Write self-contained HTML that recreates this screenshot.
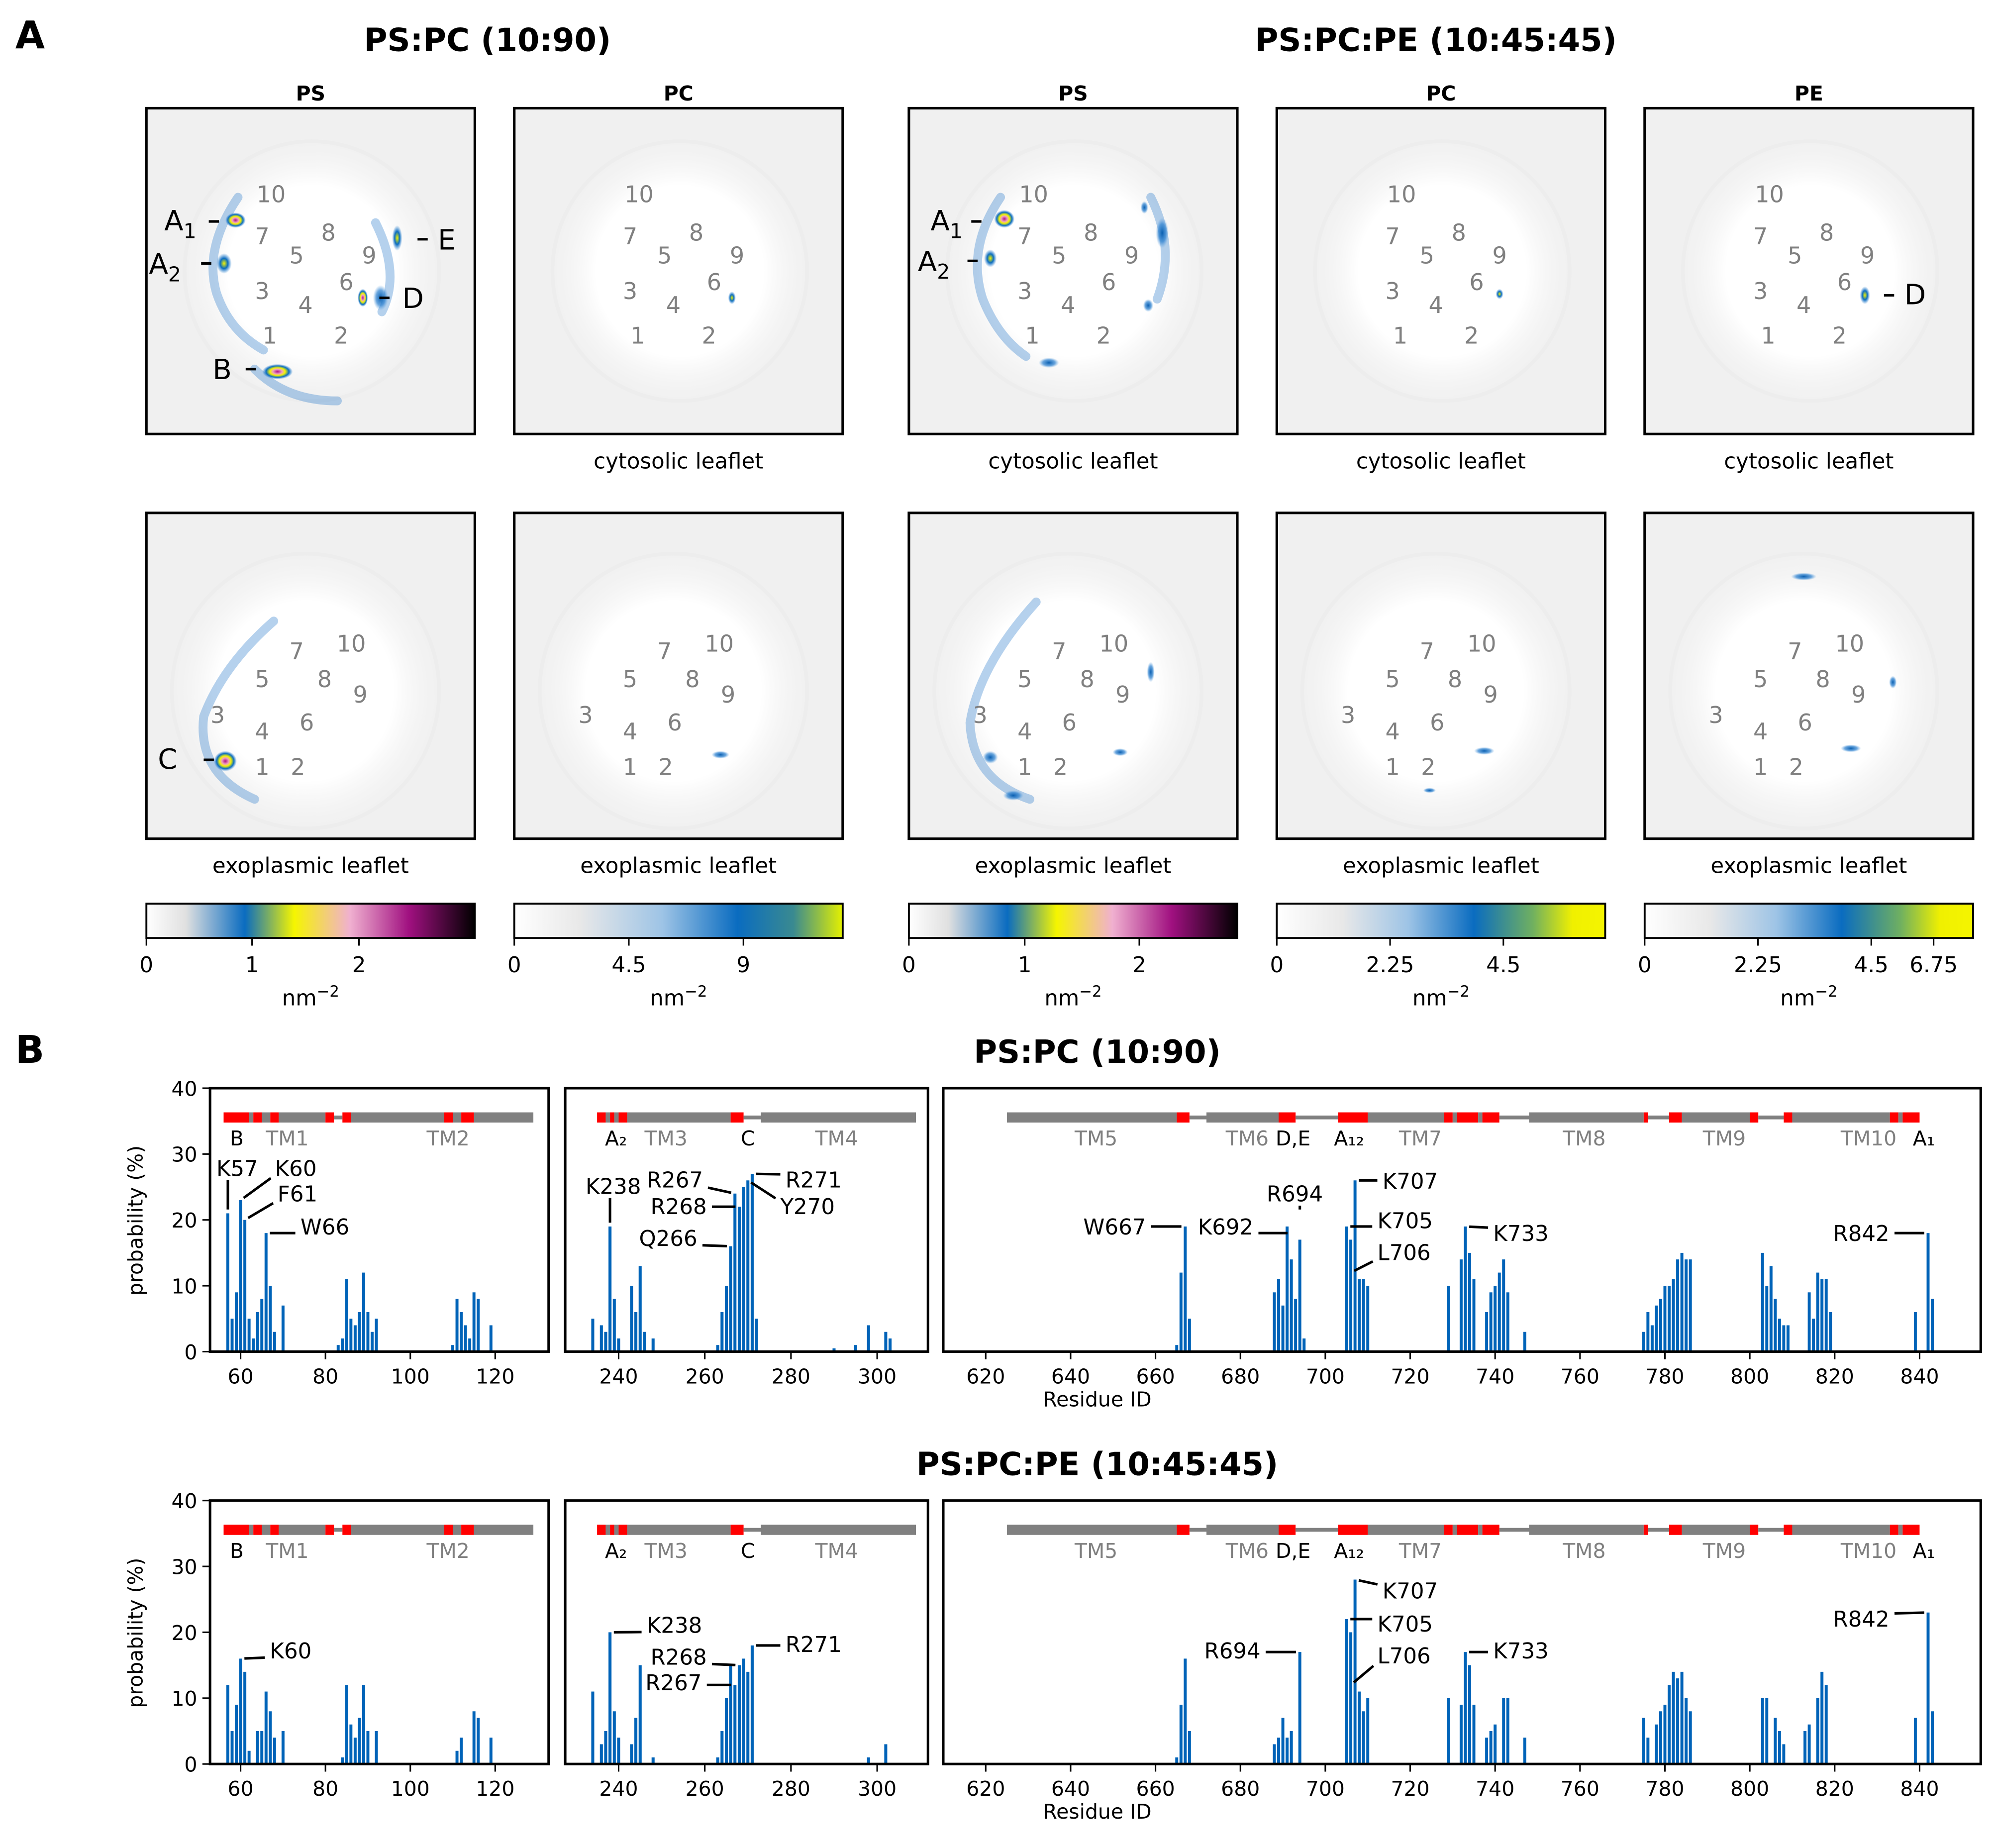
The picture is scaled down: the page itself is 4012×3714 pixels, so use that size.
<!DOCTYPE html>
<html><head><meta charset="utf-8"><style>
html,body{margin:0;padding:0;background:#fff}
svg{display:block;font-family:"DejaVu Sans","Liberation Sans",sans-serif}
</style></head><body>
<svg id="fig" xmlns="http://www.w3.org/2000/svg" width="4012" height="3714" viewBox="0 0 1568 1452" preserveAspectRatio="none">
<defs>
<radialGradient id="blob" cx="50%" cy="50%" r="50%">
<stop offset="0" stop-color="#fff"/><stop offset="0.6" stop-color="#fff"/><stop offset="1" stop-color="#f0f0f0" stop-opacity="0"/></radialGradient>
<radialGradient id="hot" cx="50%" cy="50%" r="50%">
<stop offset="0" stop-color="#b0108a"/><stop offset="0.3" stop-color="#f0a0c0"/><stop offset="0.5" stop-color="#f5f500"/><stop offset="0.75" stop-color="#0a6cc0"/><stop offset="1" stop-color="#2a80d0" stop-opacity="0"/></radialGradient>
<radialGradient id="warm" cx="50%" cy="50%" r="50%">
<stop offset="0" stop-color="#f5f500"/><stop offset="0.5" stop-color="#0a6cc0"/><stop offset="1" stop-color="#2a80d0" stop-opacity="0"/></radialGradient>
<radialGradient id="cool" cx="50%" cy="50%" r="50%">
<stop offset="0" stop-color="#0a5fb0"/><stop offset="0.6" stop-color="#2a80d0" stop-opacity="0.7"/><stop offset="1" stop-color="#5aa0e0" stop-opacity="0"/></radialGradient>
<linearGradient id="cbPS" x1="0" x2="1"><stop offset="0" stop-color="#fff"/><stop offset="0.12" stop-color="#e0e0e0"/><stop offset="0.3" stop-color="#0a6cc0"/><stop offset="0.45" stop-color="#f5f500"/><stop offset="0.62" stop-color="#f0b0d0"/><stop offset="0.8" stop-color="#a01080"/><stop offset="1" stop-color="#000"/></linearGradient>
<linearGradient id="cbPC" x1="0" x2="1"><stop offset="0" stop-color="#fff"/><stop offset="0.2" stop-color="#e8e8e8"/><stop offset="0.45" stop-color="#9ec4e6"/><stop offset="0.68" stop-color="#0a6cc0"/><stop offset="0.85" stop-color="#3a8a90"/><stop offset="1" stop-color="#e4f000"/></linearGradient>
<linearGradient id="cbPE" x1="0" x2="1"><stop offset="0" stop-color="#fff"/><stop offset="0.2" stop-color="#e8e8e8"/><stop offset="0.4" stop-color="#9ec4e6"/><stop offset="0.6" stop-color="#0a6cc0"/><stop offset="0.78" stop-color="#70b060"/><stop offset="0.9" stop-color="#f0f000"/><stop offset="1" stop-color="#f5f500"/></linearGradient>
</defs>
<g id="A"></g>
<g id="B"></g>
</svg>
<script>
// ---------- Panel B data ----------
const resP1Top=[57,58,59,60,61,62,63,64,65,66,67,68,70,83,84,85,86,87,88,89,90,91,92,110,111,112,113,114,115,116,119];
const valP1Top=[21,5,9,23,20,5,2,6,8,18,10,3,7,1,2,11,5,4,6,12,6,3,5,1,8,6,4,2,9,8,4];
const resP2Top=[234,236,237,238,239,240,243,244,245,246,248,263,264,265,266,267,268,269,270,271,272,290,295,298,302,303];
const valP2Top=[5,4,3,19,8,2,10,6,13,3,2,1,6,10,16,24,22,25,26,27,5,0.5,1,4,3,2];
const resP3Top=[665,666,667,668,688,689,690,691,692,693,694,695,705,706,707,708,709,710,729,732,733,734,735,738,739,740,741,742,743,747,775,776,777,778,779,780,781,782,783,784,785,786,803,804,805,806,807,808,809,814,815,816,817,818,819,839,842,843];
const valP3Top=[1,12,19,5,9,11,7,19,14,8,17,2,19,17,26,11,11,10,10,14,19,15,11,6,9,10,12,14,9,3,3,6,4,7,8,10,10,11,14,15,14,14,15,10,13,8,5,4,4,9,5,12,11,11,6,6,18,8];
const resP1Bot=[57,58,59,60,61,62,64,65,66,67,68,70,84,85,86,87,88,89,90,92,111,112,115,116,119];
const valP1Bot=[12,5,9,16,14,2,5,5,11,8,4,5,1,12,6,4,7,12,5,5,2,4,8,7,4];
const resP2Bot=[234,236,237,238,239,240,243,244,245,248,263,264,265,266,267,268,269,270,271,298,302];
const valP2Bot=[11,3,5,20,8,4,3,7,15,1,1,5,10,15,12,15,16,14,18,1,3];
const resP3Bot=[665,666,667,668,688,689,690,691,692,694,705,706,707,708,709,710,729,732,733,734,735,738,739,740,742,743,747,775,776,778,779,780,781,782,783,784,785,786,803,804,806,807,808,813,814,816,817,818,839,842,843];
const valP3Bot=[1,9,16,5,3,4,7,4,5,17,22,20,28,11,8,10,10,9,17,15,9,4,5,6,10,10,4,7,4,6,8,9,12,14,13,14,10,8,10,10,7,5,3,5,6,10,14,12,7,23,8];
const yTicks=[0,10,20,30,40];
const xTicksP1=[60,80,100,120];
const xTicksP2=[240,260,280,300];
const xTicksP3=[620,640,660,680,700,720,740,760,780,800,820,840];

const NS="http://www.w3.org/2000/svg";
function mk(parent,tag,attrs,txt){const e=document.createElementNS(NS,tag);for(const k in attrs)e.setAttribute(k,attrs[k]);if(txt!==undefined)e.textContent=txt;parent.appendChild(e);return e;}

const A=document.getElementById('A'), B=document.getElementById('B');
let t;
t=mk(A,'text',{x:12,y:38,'font-size':30,'font-weight':'bold'},'A');

t=mk(A,'text',{x:383,y:40,'font-size':25,'font-weight':'bold','text-anchor':'middle'},'PS:PC (10:90)');

t=mk(A,'text',{x:1128,y:40,'font-size':25,'font-weight':'bold','text-anchor':'middle'},'PS:PC:PE (10:45:45)');


const colX=[115,404,714,1003,1292];
const colLbl=['PS','PC','PS','PC','PE'];
const row1num=[['10',98,74],['7',91,107],['5',118,122],['8',143,104],['9',175,122],['3',91,150],['4',125,161],['6',157,143],['1',97,185],['2',153,185]];
const row2num=[['7',118,115],['10',161,109],['5',91,137],['8',140,137],['9',168,149],['3',56,165],['4',91,178],['6',126,171],['1',91,206],['2',119,206]];
const spots=[
[0,0,70,88,8,6,'hot'],[0,0,61,122,6,8,'warm'],[0,0,197,102,4,10,'warm'],[0,0,170,149,4,7,'hot'],[0,0,184,149,6,10,'cool'],[0,0,103,207,12,6,'hot'],
[1,0,171,149,3,5,'warm'],
[2,0,75,87,8,7,'hot'],[2,0,64,118,5,7,'warm'],[2,0,199,98,5,12,'cool'],[2,0,185,78,3,5,'cool'],[2,0,188,155,4,5,'cool'],[2,0,110,200,8,4,'cool'],
[3,0,175,146,3,4,'warm'],
[4,0,173,147,4,7,'warm'],
[0,1,62,195,9,8,'hot'],
[1,1,162,190,7,3,'cool'],
[2,1,64,192,6,5,'cool'],[2,1,190,125,3,8,'cool'],[2,1,82,222,8,4,'cool'],[2,1,166,188,6,3,'cool'],
[3,1,163,187,8,3,'cool'],[3,1,120,218,5,2,'cool'],
[4,1,162,185,8,3,'cool'],[4,1,195,133,3,5,'cool'],[4,1,125,50,10,3,'cool']
];
const arcsPS=[[0,0,'M 72 70 Q 45 110 55 145 Q 65 175 92 190'],[0,0,'M 85 205 Q 110 230 150 230'],[0,0,'M 180 90 Q 200 130 185 160'],
[2,0,'M 72 70 Q 45 110 58 150 Q 70 180 92 195'],[2,0,'M 190 70 Q 210 110 195 150'],
[0,1,'M 100 85 Q 60 120 45 160 Q 40 205 85 225'],[2,1,'M 100 70 Q 55 120 48 165 Q 50 210 95 225']];
const rowY=[85,403];
for(let c=0;c<5;c++){
  for(let r=0;r<2;r++){
    const g=mk(A,'g',{transform:`translate(${colX[c]},${rowY[r]})`});
    
    
    mk(g,'rect',{x:0,y:0,width:258,height:256,fill:'#f0f0f0'});
    mk(g,'ellipse',{cx:r?125:130,cy:r?140:128,rx:r?115:110,ry:r?118:112,fill:'url(#blob)'});
    mk(g,'ellipse',{cx:r?125:130,cy:r?140:128,rx:r?105:100,ry:r?108:102,fill:'none',stroke:'#e8e8e8','stroke-width':3,'stroke-opacity':0.4});
    arcsPS.filter(a=>a[0]===c&&a[1]===r).forEach(a=>mk(g,'path',{d:a[2],fill:'none',stroke:'#2a7ccc','stroke-width':7,'stroke-opacity':0.35,'stroke-linecap':'round'}));
    spots.filter(s=>s[0]===c&&s[1]===r).forEach(s=>mk(g,'ellipse',{cx:s[2],cy:s[3],rx:s[4],ry:s[5],fill:`url(#${s[6]})`}));
    (r?row2num:row1num).forEach(n=>mk(g,'text',{x:n[1],y:n[2],'font-size':18,fill:'#808080','text-anchor':'middle'},n[0]));
    mk(g,'rect',{x:0,y:0,width:258,height:256,fill:'none',stroke:'#000','stroke-width':2});
    if(!(c===0&&r===0)){
      t=mk(A,'text',{x:colX[c]+129,y:rowY[r]+283,'font-size':17,'text-anchor':'middle'},r?'exoplasmic leaflet':'cytosolic leaflet');
      
    }
  }
  t=mk(A,'text',{x:colX[c]+129,y:79,'font-size':16,'font-weight':'bold','text-anchor':'middle'},colLbl[c]);
  
}
const annA=[['A',129,181,164,174,'1'],['A',117,215,158,207,'2'],['E',344,196,328,188,''],['D',316,242,298,234,''],['B',167,298,193,290,''],['A',731,181,763,174,'1'],['A',721,213,760,205,'2'],['D',1496,239,1480,232,''],['C',124,604,160,597,'']];
annA.forEach(a=>{
  const g=mk(A,'g',{});
  
  const tx=mk(g,'text',{x:a[1],y:a[2],'font-size':22},a[0]);
  if(a[5]){mk(tx,'tspan',{dy:6,'font-size':16},a[5]);}
  mk(g,'line',{x1:a[3],y1:a[4],x2:a[3]+8,y2:a[4],stroke:'#000','stroke-width':2});
});
const cbG=['cbPS','cbPC','cbPS','cbPE','cbPE'];
const cbTicks=[[['0',0],['1',83],['2',167]],[['0',0],['4.5',90],['9',180]],[['0',0],['1',91],['2',181]],[['0',0],['2.25',89],['4.5',178]],[['0',0],['2.25',89],['4.5',178],['6.75',227]]];
for(let c=0;c<5;c++){
  const g=mk(A,'g',{transform:`translate(${colX[c]},710)`});
  
  mk(g,'rect',{x:0,y:0,width:258,height:27,fill:`url(#${cbG[c]})`,stroke:'#000','stroke-width':1.5});
  cbTicks[c].forEach(k=>{mk(g,'line',{x1:k[1],x2:k[1],y1:27,y2:33,stroke:'#000','stroke-width':1.2});mk(g,'text',{x:k[1],y:54,'font-size':17,'text-anchor':'middle'},k[0]);});
  const u=mk(g,'text',{x:129,y:80,'font-size':17,'text-anchor':'middle'},'nm');
  mk(u,'tspan',{dy:-7,'font-size':12},'−2');
}

// ---------- Panel B ----------
t=mk(B,'text',{x:12,y:835,'font-size':30,'font-weight':'bold'},'B');

t=mk(B,'text',{x:862,y:835,'font-size':25,'font-weight':'bold','text-anchor':'middle'},'PS:PC (10:90)');

t=mk(B,'text',{x:862,y:1159,'font-size':25,'font-weight':'bold','text-anchor':'middle'},'PS:PC:PE (10:45:45)');


const panels=[{d:[52.8,132.6],r:[165,431],ticks:xTicksP1},{d:[227.6,311.8],r:[444,729],ticks:xTicksP2},{d:[610,854.4],r:[741,1556],ticks:xTicksP3}];
function xs(p,v){return p.r[0]+(v-p.d[0])*(p.r[1]-p.r[0])/(p.d[1]-p.d[0]);}
function ys(top,v){return top+207-v*207/40;}
const topo=[
[[56,62,'r'],[62,63,'g'],[63,65,'r'],[65,67,'g'],[67,69,'r'],[69,80,'g'],[80,82,'r'],[82,84,'l'],[84,86,'r'],[86,108,'g'],[108,110,'r'],[110,112,'g'],[112,115,'r'],[115,129,'g']],
[[235,237,'r'],[237,238,'g'],[238,239,'r'],[239,240,'g'],[240,242,'r'],[242,266,'g'],[266,269,'r'],[269,273,'l'],[273,309,'g']],
[[625,665,'g'],[665,668,'r'],[668,672,'l'],[672,689,'g'],[689,693,'r'],[693,703,'l'],[703,710,'r'],[710,728,'g'],[728,730,'r'],[730,731,'g'],[731,736,'r'],[736,737,'g'],[737,741,'r'],[741,748,'l'],[748,775,'g'],[775,776,'r'],[776,781,'l'],[781,784,'r'],[784,800,'g'],[800,802,'r'],[802,808,'l'],[808,810,'r'],[810,833,'g'],[833,835,'r'],[835,836,'g'],[836,840,'r']]
];
const topoLbl=[
[['B',59.1,'#000'],['TM1',71,'#808080'],['TM2',108.9,'#808080']],
[['A₂',239.4,'#000'],['TM3',251,'#808080'],['C',270,'#000'],['TM4',290.6,'#808080']],
[['TM5',646,'#808080'],['TM6',681.6,'#808080'],['D,E',692.4,'#000'],['A₁₂',705.6,'#000'],['TM7',722.4,'#808080'],['TM8',761,'#808080'],['TM9',794,'#808080'],['TM10',828,'#808080'],['A₁',841,'#000']]
];
const seriesTop=[[resP1Top,valP1Top],[resP2Top,valP2Top],[resP3Top,valP3Top]];
const seriesBot=[[resP1Bot,valP1Bot],[resP2Bot,valP2Bot],[resP3Bot,valP3Bot]];
const annTop=[[0,'K57',57,21,170,924],[0,'K60',60,23,216,924],[0,'F61',61,20,218,944],[0,'W66',66,18,236,970],
[1,'K238',238,19,460,938],[1,'R267',267,24,508,933],[1,'R268',268,22,511,954],[1,'R271',271,27,617,933],[1,'Y270',270,26,613,954],[1,'Q266',266,16,502,979],
[2,'W667',667,19,851,970],[2,'K692',692,18,941,970],[2,'R694',694,21,995,944],[2,'K707',707,26,1086,934],[2,'K705',705,19,1082,965],[2,'L706',706,12,1082,990],[2,'K733',733,19,1173,975],[2,'R842',842,18,1440,975]];
const annBot=[[0,'K60',60,16,212,1303],[1,'K238',238,20,508,1283],[1,'R268',268,15,511,1308],[1,'R267',267,12,507,1328],[1,'R271',271,18,617,1298],
[2,'R694',694,17,946,1303],[2,'K707',707,28,1086,1256],[2,'K705',705,22,1082,1282],[2,'L706',706,12,1082,1307],[2,'K733',733,17,1173,1303],[2,'R842',842,23,1440,1278]];

function drawRow(top,series,ann,rowName){
  panels.forEach((p,i)=>{
    const g=mk(B,'g',{});
    
    const tg=mk(g,'g',{});
    
    topo[i].forEach(s=>{
      const x1=xs(p,s[0]),x2=xs(p,s[1]);
      if(s[2]==='l') mk(tg,'rect',{x:x1,y:top+21.5,width:x2-x1,height:3,fill:'#808080'});
      else mk(tg,'rect',{x:x1,y:top+19,width:x2-x1,height:8,fill:s[2]==='r'?'#ff0000':'#808080'});
    });
    topoLbl[i].forEach(l=>mk(tg,'text',{x:xs(p,l[1]),y:top+45,'font-size':16,fill:l[2],'text-anchor':'middle'},l[0]));
    const [res,val]=series[i];
    const bw=(p.r[1]-p.r[0])/(p.d[1]-p.d[0])*0.7;
    res.forEach((rv,k)=>{
      const b=mk(g,'rect',{x:xs(p,rv)-bw/2,y:ys(top,val[k]),width:bw,height:ys(top,0)-ys(top,val[k]),fill:'#0063b8'});
      
      
    });
    mk(g,'rect',{x:p.r[0],y:top,width:p.r[1]-p.r[0],height:207,fill:'none',stroke:'#000','stroke-width':2});
    p.ticks.forEach(v=>{const x=xs(p,v);mk(g,'line',{x1:x,x2:x,y1:top+207,y2:top+213,stroke:'#000','stroke-width':1.2});mk(g,'text',{x:x,y:top+232,'font-size':16,'text-anchor':'middle'},v);});
    if(i===0){
      yTicks.forEach(v=>{const y=ys(top,v);mk(g,'line',{x1:p.r[0]-6,x2:p.r[0],y1:y,y2:y,stroke:'#000','stroke-width':1.2});mk(g,'text',{x:p.r[0]-10,y:y+6,'font-size':16,'text-anchor':'end'},v);});
      const yl=mk(g,'text',{x:0,y:0,'font-size':16,'text-anchor':'middle',transform:`translate(112,${top+104}) rotate(-90)`},'probability (%)');
      
    }
    if(i===2){
      const xl=mk(g,'text',{x:862,y:top+250,'font-size':16,'text-anchor':'middle'},'Residue ID');
      
    }
  });
  ann.forEach(a=>{
    const p=panels[a[0]];
    const ag=mk(B,'g',{});
    
    const bx=xs(p,a[2]), by=ys(top,a[3]);
    const tx=mk(ag,'text',{x:a[4],y:a[5],'font-size':17},a[1]);
    const bb=tx.getBBox();
    let nx=Math.min(Math.max(bx,bb.x),bb.x+bb.width);
    let ny=Math.min(Math.max(by,bb.y+5),bb.y+bb.height-5);
    let dx=bx-nx, dy=by-ny, L=Math.hypot(dx,dy)||1;
    const sx=nx+dx/L*4, sy=ny+dy/L*4, ex=bx-dx/L*3, ey=by-dy/L*3;
    mk(ag,'line',{x1:sx,y1:sy,x2:ex,y2:ey,stroke:'#000','stroke-width':2});
  });
}
drawRow(855,seriesTop,annTop,'ps-pc');
drawRow(1179,seriesBot,annBot,'ps-pc-pe');
</script>
</body></html>
